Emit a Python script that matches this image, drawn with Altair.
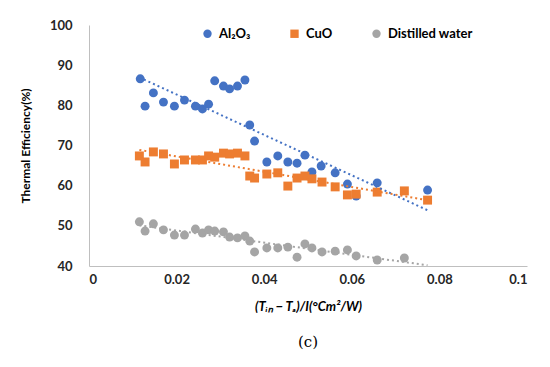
import altair as alt
import pandas as pd

series_names = ["Al₂O₃", "CuO", "Distilled water"]

al_x = [0.0117, 0.0128, 0.0147, 0.0170, 0.0195, 0.0218, 0.0243, 0.0259, 0.0273, 0.0287,
        0.0307, 0.0321, 0.0339, 0.0356, 0.0367, 0.0378, 0.0406, 0.0431, 0.0454, 0.0475,
        0.0493, 0.0509, 0.0530, 0.0562, 0.0590, 0.0610, 0.0658, 0.0773]
al_y = [86.6, 79.8, 83.1, 80.8, 79.8, 81.3, 79.8, 79.1, 80.3, 86.1,
        84.8, 84.1, 84.8, 86.3, 75.1, 71.1, 65.9, 67.4, 65.9, 65.6,
        67.6, 63.4, 64.9, 63.2, 60.4, 57.4, 60.7, 58.9]

cuo_x = [0.0115, 0.0128, 0.0147, 0.0170, 0.0195, 0.0218, 0.0243, 0.0259, 0.0273, 0.0287,
         0.0307, 0.0321, 0.0339, 0.0356, 0.0367, 0.0378, 0.0406, 0.0431, 0.0454, 0.0475,
         0.0493, 0.0509, 0.0532, 0.0562, 0.0590, 0.0610, 0.0658, 0.0720, 0.0773]
cuo_y = [67.4, 65.9, 68.4, 67.9, 65.4, 66.4, 66.4, 66.4, 67.4, 67.1,
         68.1, 67.9, 68.1, 67.4, 62.4, 61.9, 62.9, 63.2, 59.9, 61.9,
         62.4, 61.7, 60.9, 59.7, 57.7, 57.9, 58.4, 58.7, 56.4]

dw_x = [0.0115, 0.0128, 0.0147, 0.0170, 0.0195, 0.0218, 0.0243, 0.0259, 0.0273, 0.0287,
        0.0307, 0.0321, 0.0339, 0.0356, 0.0367, 0.0378, 0.0406, 0.0431, 0.0454, 0.0475,
        0.0493, 0.0509, 0.0532, 0.0562, 0.0590, 0.0610, 0.0658, 0.0720]
dw_y = [51.0, 48.7, 50.5, 49.0, 47.7, 47.7, 49.2, 48.2, 49.0, 48.7,
        48.5, 47.2, 47.0, 47.5, 46.2, 43.5, 44.5, 44.5, 44.7, 42.2,
        45.5, 44.5, 43.5, 43.7, 44.0, 42.5, 41.5, 42.0]

x_ticks = [0, 0.02, 0.04, 0.06, 0.08, 0.1]
y_ticks = [40, 50, 60, 70, 80, 90, 100]

colors = ["#4472C4", "#ED7D31", "#A5A5A5"]
shapes = ["circle", "square", "circle"]

rows = []
for name, xs, ys in [(series_names[0], al_x, al_y), (series_names[1], cuo_x, cuo_y),
                     (series_names[2], dw_x, dw_y)]:
    for xv, yv in zip(xs, ys):
        rows.append({"x": xv, "y": yv, "series": name})
df = pd.DataFrame(rows)

FONT = "Lato"

xscale = alt.Scale(domain=[0, 0.1], nice=False)
yscale = alt.Scale(domain=[40, 100], nice=False)
color_scale = alt.Scale(domain=series_names, range=colors)
legend = alt.Legend(title=None, orient="none", direction="horizontal",
                    legendX=112, legendY=2, columnPadding=37,
                    labelFont=FONT, labelFontSize=13, labelFontWeight="bold",
                    labelColor="#000000", symbolSize=70, labelOffset=5,
                    symbolOpacity=1, symbolStrokeWidth=0)
color = alt.Color("series:N", scale=color_scale, sort=series_names, legend=legend)
shape = alt.Shape("series:N", scale=alt.Scale(domain=series_names, range=shapes),
                  sort=series_names, legend=legend)

x_enc = alt.X("x:Q", scale=xscale,
              axis=alt.Axis(values=x_ticks, format="~g",
                            title="(Tᵢₙ − Tₐ)/I(°Cm²/W)",
                            titleFontStyle="italic"))
y_enc = alt.Y("y:Q", scale=yscale,
              axis=alt.Axis(values=y_ticks, title="Thermal Efficiency(%)"))

points = alt.Chart(df).mark_point(filled=True, opacity=1, size=80).encode(
    x=x_enc, y=y_enc, color=color, shape=shape)

trend = alt.Chart(df).transform_regression(
    "x", "y", groupby=["series"], extent=[0.0115, 0.0773]
).mark_line(strokeDash=[2, 3], strokeWidth=2, clip=True).encode(
    x=alt.X("x:Q", scale=xscale), y=alt.Y("y:Q", scale=yscale),
    color=alt.Color("series:N", scale=color_scale, sort=series_names, legend=legend))

chart = alt.layer(points, trend).properties(
    width=438, height=241,
    autosize=alt.AutoSizeParams(type="none"),
    padding={"left": 81, "top": 17, "right": 10, "bottom": 90},
    title=alt.TitleParams("(c)", orient="bottom", anchor="middle", font="DejaVu Serif",
                          fontSize=15, fontWeight="normal", color="#000000", offset=22),
).configure_view(stroke=None).configure_axis(
    grid=False, ticks=False, domainColor="#BFBFBF", domainWidth=1,
    labelFont=FONT, labelFontSize=13, labelFontWeight="bold", labelColor="#262626",
    titleFont=FONT, titleFontSize=13, titleFontWeight="bold", titleColor="#000000",
).configure_axisX(labelPadding=7, titlePadding=14).configure_axisY(
    labelPadding=17, titlePadding=17, titleFontSize=12)

chart.save("out.html", embed_options={"renderer": "svg", "actions": False})
